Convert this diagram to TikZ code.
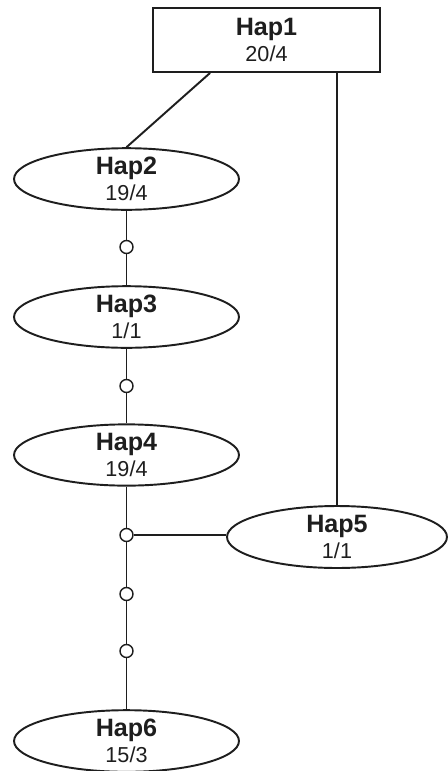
\documentclass[tikz,border=0pt]{standalone}
\usepackage{fontspec}
\setmainfont{Liberation Sans}
\usetikzlibrary{shapes.geometric,calc}
\definecolor{ink}{HTML}{1E1E1E}
\begin{document}
\begin{tikzpicture}[x=0.02cm,y=-0.02cm,
  conn/.style={draw=ink,line width=1.1pt},
  hapell/.style={ellipse,draw=ink,line width=1.1pt,fill=white,minimum width=4.5cm,minimum height=1.2cm,inner sep=0pt,align=center,text=ink,font=\fontsize{12.3}{14.7}\selectfont},
  haprect/.style={rectangle,draw=ink,line width=1.1pt,fill=white,minimum width=4.54cm,minimum height=1.28cm,inner sep=0pt,align=center,text=ink,font=\fontsize{12.3}{14.7}\selectfont},
  dot/.style={circle,draw=ink,line width=0.8pt,fill=white,minimum size=0.26cm,inner sep=0pt}]
\useasboundingbox (0,0) rectangle (447,771);
\newcommand{\haptext}[2]{{\bfseries\fontsize{14.3}{14.7}\selectfont #1}\\#2}
\node[haprect] (h1) at (266.5,40) {\haptext{Hap1}{20/4}};
\node[hapell] (h2) at (126.5,179) {\haptext{Hap2}{19/4}};
\node[hapell] (h3) at (126.5,317) {\haptext{Hap3}{1/1}};
\node[hapell] (h4) at (126.5,455) {\haptext{Hap4}{19/4}};
\node[hapell,minimum width=4.4cm,minimum height=1.24cm] (h5) at (337,537) {\haptext{Hap5}{1/1}};
\node[hapell] (h6) at (126.5,741) {\haptext{Hap6}{15/3}};
\node[dot] (d1) at (126.5,247) {};
\node[dot] (d2) at (126.5,386) {};
\node[dot] (d3) at (126.5,535) {};
\node[dot] (d4) at (126.5,594) {};
\node[dot] (d5) at (126.5,651) {};
\draw[conn] ($(h1.south west)+(58,0)$) -- (h2.north);
\draw[conn] (h5.north |- h1.south) -- (h5.north);
\draw[conn] (h2.south) -- (d1) -- (h3.north);
\draw[conn] (h3.south) -- (d2) -- (h4.north);
\draw[conn] (h4.south) -- (d3) -- (d4) -- (d5) -- (h6.north);
\draw[conn] (d3) -- (d3 -| h5.west);
\end{tikzpicture}
\end{document}
